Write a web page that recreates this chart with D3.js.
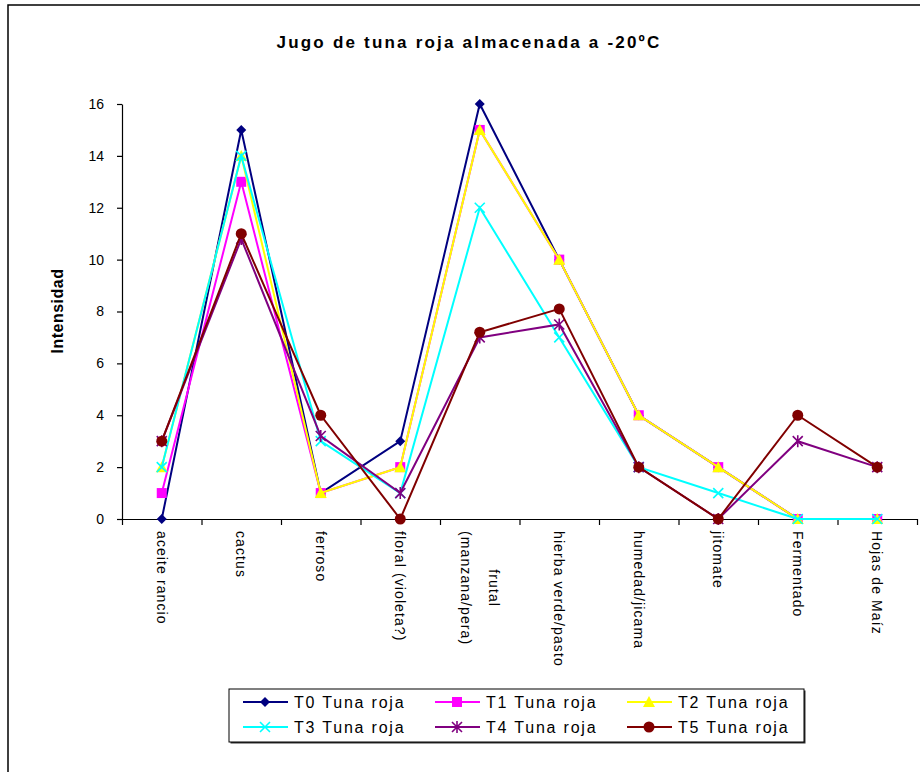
<!DOCTYPE html>
<html>
<head>
<meta charset="utf-8">
<script src="https://cdn.jsdelivr.net/npm/d3@7"></script>
<style>
  body { margin: 0; background: #fff; }
  text { font-family: "Liberation Sans", Arial, sans-serif; }
</style>
</head>
<body>
<script>
// categories on the x axis ("\n" = wrapped label)
const categories = ["aceite rancio", "cactus", "ferroso", "floral (violeta?)", "frutal\n(manzana/pera)",
  "hierba verde/pasto", "humedad/jicama", "jitomate", "Fermentado", "Hojas de Maíz"]
const seriesNames = ["T0 Tuna roja", "T1 Tuna roja", "T2 Tuna roja", "T3 Tuna roja", "T4 Tuna roja", "T5 Tuna roja"]
const t0 = [0, 15, 1, 3, 16, 10, 4, 2, 0, 0]
const t1 = [1, 13, 1, 2, 15, 10, 4, 2, 0, 0]
const t2 = [2, 14, 1, 2, 15, 10, 4, 2, 0, 0]
const t3 = [2, 14, 3, 1, 12, 7, 2, 1, 0, 0]
const t4 = [3, 10.8, 3.2, 1, 7, 7.5, 2, 0, 3, 2]
const t5 = [3, 11, 4, 0, 7.2, 8.1, 2, 0, 4, 2]
const yTicks = [0, 2, 4, 6, 8, 10, 12, 14, 16]

const colors = ["#000080", "#ff00ff", "#ffff00", "#00ffff", "#800080", "#800000"]
const shapes = ["diamond", "square", "triangle", "x", "star", "circle"]
const allValues = [t0, t1, t2, t3, t4, t5]

const W = 920, H = 772
const svg = d3.select("body").append("svg").attr("width", W).attr("height", H)

// outer frame (only top and left edges are visible)
svg.append("path").attr("d", `M8,${H} L8,5 L${W},5`)
  .attr("fill", "none").attr("stroke", "#000").attr("stroke-width", 1.5)

const x = d3.scaleBand().domain(d3.range(categories.length)).range([122, 917]).padding(0)
const xEdge = d3.scaleLinear().domain([0, categories.length]).range([122, 917])
const y = d3.scaleLinear().domain([0, 16]).range([519, 104])
const cx = i => x(i) + x.bandwidth() / 2

// title
svg.append("text").attr("x", 469).attr("y", 48).attr("text-anchor", "middle")
  .style("font-size", "17px").style("font-weight", "bold").style("letter-spacing", "2.2px")
  .text("Jugo de tuna roja almacenada a -20ºC")

// y axis
const yAxis = svg.append("g").attr("transform", "translate(122,0)")
  .call(d3.axisLeft(y).tickValues(yTicks).tickSize(5).tickSizeOuter(0).tickPadding(13))
yAxis.selectAll("text").style("font-size", "14px").attr("fill", "#000")
  .style("font-family", '"Liberation Sans", Arial, sans-serif')
yAxis.selectAll("line, path").attr("stroke", "#000").attr("stroke-width", 1.2)

svg.append("text").attr("transform", "translate(63,311) rotate(-90)").attr("text-anchor", "middle")
  .style("font-size", "16px").style("font-weight", "bold").style("letter-spacing", "0.5px")
  .text("Intensidad")

// x axis, ticks between categories
const xAxis = svg.append("g").attr("transform", "translate(0,519)")
  .call(d3.axisBottom(xEdge).tickValues(d3.range(categories.length + 1)).tickSize(6).tickSizeOuter(0).tickFormat(""))
xAxis.selectAll("line, path").attr("stroke", "#000").attr("stroke-width", 1.2)

// rotated category labels
categories.forEach((c, i) => {
  const lines = c.split("\n")
  const t = svg.append("text").attr("transform", `translate(${cx(i)},531) rotate(90)`)
    .style("font-size", "14px").style("letter-spacing", "1.1px").attr("text-anchor", "middle")
  const spans = lines.map((l, k) => t.append("tspan").text(l))
  const maxW = d3.max(spans, s => s.node().getComputedTextLength())
  const lineH = 28
  spans.forEach((s, k) => {
    s.attr("x", maxW / 2).attr("y", (k - (lines.length - 1) / 2) * lineH).attr("dy", "0.35em")
  })
})

function drawMarker(g, shape, color, px, py) {
  if (shape === "diamond") {
    g.append("path").attr("d", `M${px},${py - 5}L${px + 5},${py}L${px},${py + 5}L${px - 5},${py}Z`).attr("fill", color)
  } else if (shape === "square") {
    g.append("rect").attr("x", px - 5).attr("y", py - 5).attr("width", 10).attr("height", 10).attr("fill", color)
  } else if (shape === "triangle") {
    g.append("path").attr("d", `M${px},${py - 6}L${px + 6},${py + 5}L${px - 6},${py + 5}Z`).attr("fill", color)
  } else if (shape === "x") {
    g.append("path").attr("d", `M${px - 5},${py - 5}L${px + 5},${py + 5}M${px - 5},${py + 5}L${px + 5},${py - 5}`)
      .attr("stroke", color).attr("stroke-width", 1.6)
  } else if (shape === "star") {
    g.append("path").attr("d", `M${px - 5},${py - 5}L${px + 5},${py + 5}M${px - 5},${py + 5}L${px + 5},${py - 5}M${px},${py - 6}L${px},${py + 6}`)
      .attr("stroke", color).attr("stroke-width", 1.6)
  } else {
    g.append("circle").attr("cx", px).attr("cy", py).attr("r", 5.5).attr("fill", color)
  }
}

const line = d3.line().x((d, i) => cx(i)).y(d => y(d))
allValues.forEach((vals, s) => {
  const g = svg.append("g")
  g.append("path").datum(vals).attr("d", line).attr("fill", "none")
    .attr("stroke", colors[s]).attr("stroke-width", 2)
  vals.forEach((v, i) => drawMarker(g, shapes[s], colors[s], cx(i), y(v)))
})

// legend
const lg = svg.append("g")
lg.append("rect").attr("x", 230.5).attr("y", 690.5).attr("width", 575).attr("height", 53).attr("fill", "#333")
lg.append("rect").attr("x", 229).attr("y", 689).attr("width", 575).attr("height", 53)
  .attr("fill", "#fff").attr("stroke", "#000").attr("stroke-width", 1)
const colX = [243, 435, 627], rowY = [702, 727]
seriesNames.forEach((name, s) => {
  const lx = colX[s % 3], ly = rowY[Math.floor(s / 3)]
  lg.append("line").attr("x1", lx).attr("x2", lx + 45).attr("y1", ly).attr("y2", ly)
    .attr("stroke", colors[s]).attr("stroke-width", 2)
  drawMarker(lg, shapes[s], colors[s], lx + 22, ly)
  lg.append("text").attr("x", lx + 51).attr("y", ly).attr("dy", "0.36em")
    .style("font-size", "16px").style("letter-spacing", "1.8px").text(name)
})
</script>
</body>
</html>
